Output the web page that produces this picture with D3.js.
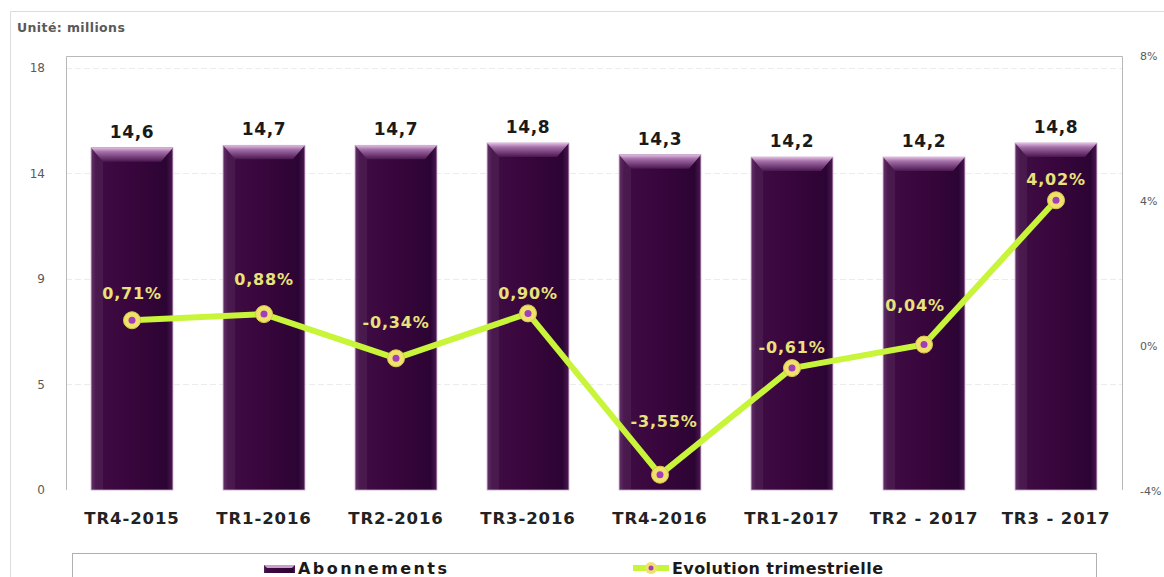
<!DOCTYPE html>
<html><head><meta charset="utf-8">
<script src="https://cdn.jsdelivr.net/npm/d3@7"></script>
<style>
body{margin:0;background:#fff;}
svg{display:block;font-family:"DejaVu Sans",Verdana,sans-serif;}
</style></head>
<body><svg id="c" width="1164" height="577"></svg>
<script>
const categories = ["TR4-2015","TR1-2016","TR2-2016","TR3-2016","TR4-2016","TR1-2017","TR2 - 2017","TR3 - 2017"];
const abonnements = [14.6,14.7,14.7,14.8,14.3,14.2,14.2,14.8];
const evolution = [0.71,0.88,-0.34,0.90,-3.55,-0.61,0.04,4.02];
const leftTicks = [0,4.5,9,13.5,18];
const leftTickLabels = ["0","5","9","14","18"];
const rightTicks = [-4,0,4,8];
const rightTickLabels = ["-4%","0%","4%","8%"];
// label nudges (layout only)
const pctLabelDx = [0,0,0,0,4,0,-9,0];
const pctLabelDy = [-27,-35,-36,-20,-54,-21,-40,-21];

const svg = d3.select("#c");
const L = 66, R = 1122, T = 56, B = 490;

const defs = svg.append("defs");
const gBar = defs.append("linearGradient").attr("id","gbar").attr("x1","0").attr("x2","1");
[["0%","#5a2560"],["6%","#3f0c44"],["50%","#38063c"],["92%","#2c0433"],["100%","#4a1a52"]].forEach(s=>gBar.append("stop").attr("offset",s[0]).attr("stop-color",s[1]));
const gTop = defs.append("linearGradient").attr("id","gtop").attr("x1","0").attr("x2","0").attr("y1","0").attr("y2","1");
[["0%","#e0bde0"],["30%","#a46ea8"],["100%","#4a1650"]].forEach(s=>gTop.append("stop").attr("offset",s[0]).attr("stop-color",s[1]));

// outer frame
svg.append("path").attr("d","M10.5,577 L10.5,11.5 L1164,11.5").attr("fill","none").attr("stroke","#dcdcdc").attr("stroke-width",1);

svg.append("text").attr("x",17).attr("y",32).attr("font-size",12.5).attr("font-weight","bold").attr("letter-spacing",0.4).attr("fill","#5a5a5a").text("Unité: millions");

const x = d3.scaleBand().domain(categories).range([L,R]).paddingInner(0.38).paddingOuter(0.19);
const y = d3.scaleLinear().domain([0,18.51]).range([B,T]);
const y2 = d3.scaleLinear().domain([-4,8]).range([B+1,T]);

// grid
svg.append("g").selectAll("line").data(leftTicks.slice(1)).join("line")
  .attr("x1",L).attr("x2",R).attr("y1",d=>Math.round(y(d))+0.5).attr("y2",d=>Math.round(y(d))+0.5)
  .attr("stroke","#ececec").attr("stroke-dasharray","6,3");

// plot frame
svg.append("path").attr("d",`M${L+0.5},${B} L${L+0.5},${T+0.5} L${R+0.5},${T+0.5} L${R+0.5},${B}`).attr("fill","none").attr("stroke","#b8b8b8");

// left axis
const ax = d3.axisLeft(y).tickValues(leftTicks).tickFormat((d,i)=>leftTickLabels[i]).tickSize(0).tickPadding(21);
const gl = svg.append("g").attr("transform",`translate(${L},0)`).call(ax);
gl.select(".domain").remove();
gl.selectAll("text").attr("font-size",12).attr("fill","#5a5a5a").attr("font-family","DejaVu Sans, sans-serif");

// right axis
const ax2 = d3.axisRight(y2).tickValues(rightTicks).tickFormat((d,i)=>rightTickLabels[i]).tickSize(0).tickPadding(18);
const gr = svg.append("g").attr("transform",`translate(${R},0)`).call(ax2);
gr.select(".domain").remove();
gr.selectAll("text").attr("font-size",11).attr("fill","#5a5a5a").attr("font-family","DejaVu Sans, sans-serif");

// bars
const bw = x.bandwidth();
const bars = svg.append("g").selectAll("g").data(abonnements).join("g");
bars.append("rect").attr("x",(d,i)=>x(categories[i])).attr("y",d=>y(d)).attr("width",bw).attr("height",d=>B-y(d))
  .attr("fill","url(#gbar)").attr("stroke","#c7a2c9").attr("stroke-width",0.8);
bars.append("path").attr("d",(d,i)=>{const x0=x(categories[i]),x1=x0+bw,t=y(d);return `M${x0},${t} L${x1},${t} L${x1-12},${t+14} L${x0+12},${t+14} Z`;})
  .attr("fill","url(#gtop)");
bars.append("path").attr("d",(d,i)=>{const x0=x(categories[i]),t=y(d);return `M${x0},${t} L${x0+12},${t+14} L${x0+12},${B} L${x0},${B} Z`;})
  .attr("fill","#ffffff").attr("opacity",0.06);
bars.append("text").attr("x",(d,i)=>x(categories[i])+bw/2).attr("y",d=>y(d)-10).attr("text-anchor","middle")
  .attr("font-size",17).attr("font-weight","bold").attr("letter-spacing",0.6).attr("fill","#1a1a1a").text(d=>d.toFixed(1).replace(".",","));

// x labels
const axB = d3.axisBottom(x).tickSize(0).tickPadding(22);
const gb = svg.append("g").attr("transform",`translate(0,${B})`).call(axB);
gb.select(".domain").remove();
gb.selectAll("text").attr("font-size",16.5).attr("font-weight","bold").attr("letter-spacing",0.9).attr("fill","#222").attr("font-family","DejaVu Sans, sans-serif");

// line
const cx = (i)=>x(categories[i])+bw/2;
const line = d3.line().x((d,i)=>cx(i)).y(d=>y2(d));
svg.append("path").datum(evolution).attr("d",line).attr("fill","none").attr("stroke","#c8f53a").attr("stroke-width",6).attr("stroke-linejoin","round");
const pts = svg.append("g").selectAll("g").data(evolution).join("g").attr("transform",(d,i)=>`translate(${cx(i)},${y2(d)})`);
pts.append("circle").attr("r",8.5).attr("fill","#efe26a").attr("stroke","#d8c84a").attr("stroke-width",1);
pts.append("circle").attr("r",3.5).attr("fill","#a23fb8");
svg.append("g").selectAll("text").data(evolution).join("text")
  .attr("x",(d,i)=>cx(i)+pctLabelDx[i]).attr("y",(d,i)=>y2(d)+pctLabelDy[i]+6).attr("text-anchor","middle")
  .attr("font-size",16).attr("font-weight","bold").attr("letter-spacing",0.8).attr("fill","#e9e27a")
  .text(d=>d.toFixed(2).replace(".",",")+"%");

// legend
svg.append("rect").attr("x",72.5).attr("y",553.5).attr("width",1024).attr("height",40).attr("fill","#fff").attr("stroke","#b0b0b0");
const lg = svg.append("g");
lg.append("rect").attr("x",264).attr("y",565).attr("width",31).attr("height",8).attr("fill","url(#gbar)");
lg.append("path").attr("d","M264,565 L295,565 L292,568 L267,568 Z").attr("fill","#c9a0cb");
lg.append("text").attr("x",298).attr("y",574).attr("font-size",16).attr("font-weight","bold").attr("textLength",149).attr("fill","#1a1a1a").text("Abonnements");
lg.append("line").attr("x1",633).attr("x2",669).attr("y1",568).attr("y2",568).attr("stroke","#c8f53a").attr("stroke-width",6);
lg.append("circle").attr("cx",651).attr("cy",568).attr("r",6).attr("fill","#efe26a");
lg.append("circle").attr("cx",651).attr("cy",568).attr("r",2.5).attr("fill","#a23fb8");
lg.append("text").attr("x",672).attr("y",574).attr("font-size",16).attr("font-weight","bold").attr("textLength",211).attr("fill","#1a1a1a").text("Evolution trimestrielle");
</script></body></html>
